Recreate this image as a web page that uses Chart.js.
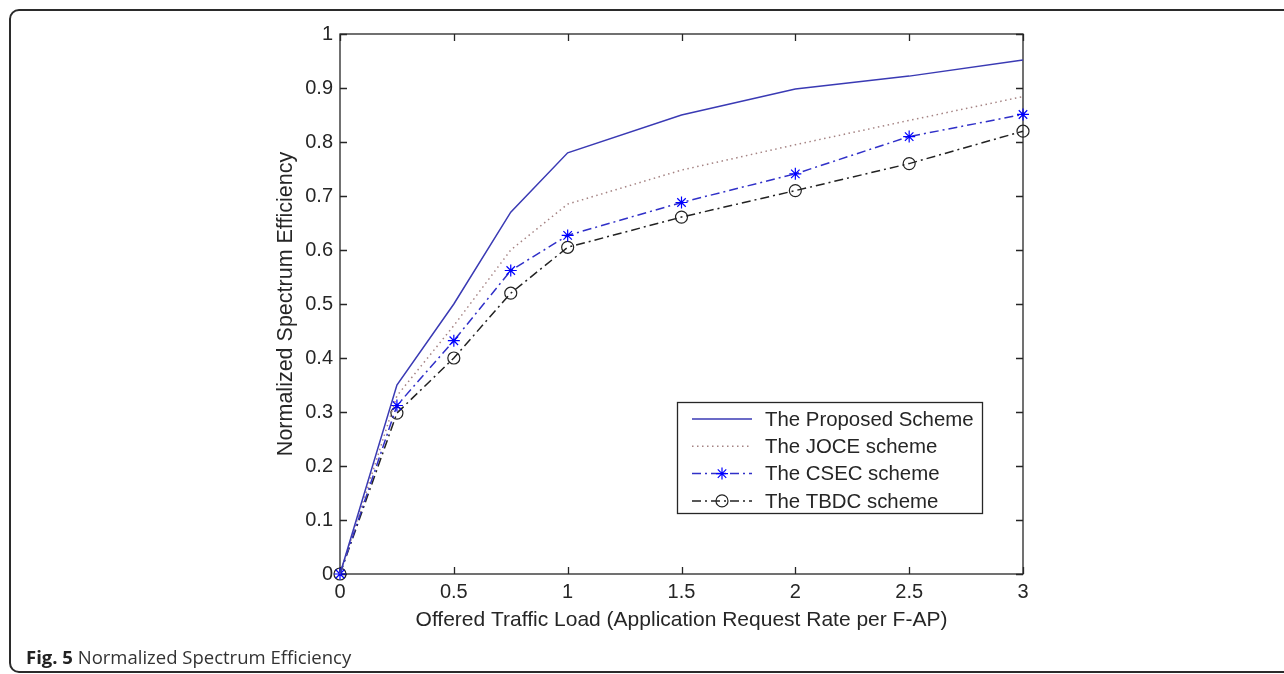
<!DOCTYPE html>
<html>
<head>
<meta charset="utf-8">
<script src="https://cdn.jsdelivr.net/npm/chart.js@4.4.0/dist/chart.umd.min.js"></script>
<style>
  html, body { margin: 0; padding: 0; background: #fff; }
  body { width: 1284px; height: 674px; position: relative; overflow: hidden; }
  #frame {
    position: absolute; left: 9px; top: 9px; width: 1300px; height: 664px;
    box-sizing: border-box; border: 2px solid #2b2b2b; border-radius: 10px;
  }
  #chart { position: absolute; left: 0; top: 0; }
  #caption {
    position: absolute; left: 26px; top: 645px;
    font-family: "Open Sans", sans-serif; font-size: 18.5px; color: #333; line-height: 24px;
  }
  #caption b { color: #222; }
</style>
</head>
<body>
<div id="frame"></div>
<canvas id="chart" width="1284" height="674"></canvas>
<div id="caption"><b>Fig. 5</b> Normalized Spectrum Efficiency</div>

<script>
// ---- data ----
const loads = [0, 0.25, 0.5, 0.75, 1, 1.5, 2, 2.5, 3];
const proposedEff = [0, 0.35, 0.50, 0.67, 0.78, 0.85, 0.898, 0.922, 0.952];
const joceEff = [0, 0.33, 0.46, 0.60, 0.685, 0.748, 0.795, 0.84, 0.884];
const csecEff = [0, 0.312, 0.432, 0.562, 0.627, 0.688, 0.741, 0.81, 0.851];
const tbdcEff = [0, 0.298, 0.40, 0.52, 0.605, 0.661, 0.71, 0.76, 0.82];

const seriesNames = ["The Proposed Scheme", "The JOCE scheme", "The CSEC scheme", "The TBDC scheme"];
const xTitle = "Offered Traffic Load (Application Request Rate per F-AP)";
const yTitle = "Normalized Spectrum Efficiency";

const FONT = "'Liberation Sans', Arial, sans-serif";
const INK = "#262626";

function puntos(valores) {
    return loads.map((x, i) => ({ x: x, y: valores[i] }));
}

function fmt(v) {
    return String(Number(v.toFixed(2)));
}

// inward ticks + box around the axes (matlab style)
const cajaEjes = {
    id: "cajaEjes",
    beforeDatasetsDraw(chart) {
        const { ctx, chartArea: a, scales } = chart;
        ctx.save();
        ctx.strokeStyle = INK;
        ctx.lineWidth = 1.3;
        ctx.strokeRect(a.left, a.top, a.right - a.left, a.bottom - a.top);
        const L = 7;
        ctx.beginPath();
        scales.x.ticks.forEach(t => {
            const px = Math.round(scales.x.getPixelForValue(t.value)) + 0.5;
            ctx.moveTo(px, a.bottom); ctx.lineTo(px, a.bottom - L);
            ctx.moveTo(px, a.top); ctx.lineTo(px, a.top + L);
        });
        scales.y.ticks.forEach(t => {
            const py = Math.round(scales.y.getPixelForValue(t.value)) + 0.5;
            ctx.moveTo(a.left, py); ctx.lineTo(a.left + L, py);
            ctx.moveTo(a.right, py); ctx.lineTo(a.right - L, py);
        });
        ctx.stroke();
        ctx.restore();
    }
};

function dibujarMarcador(ctx, estilo, x, y, r, color) {
    ctx.save();
    ctx.strokeStyle = color;
    ctx.lineWidth = 1.2;
    ctx.setLineDash([]);
    ctx.beginPath();
    if (estilo === "circle") {
        ctx.arc(x, y, r, 0, Math.PI * 2);
    } else if (estilo === "star") {
        for (let k = 0; k < 4; k++) {
            const ang = k * Math.PI / 4;
            ctx.moveTo(x - r * Math.cos(ang), y - r * Math.sin(ang));
            ctx.lineTo(x + r * Math.cos(ang), y + r * Math.sin(ang));
        }
    }
    ctx.stroke();
    ctx.restore();
}

// legend box inside the plot
const leyendaCaja = {
    id: "leyendaCaja",
    afterDraw(chart) {
        const ctx = chart.ctx;
        const bx = 677, by = 402, bw = 305, bh = 111;
        ctx.save();
        ctx.fillStyle = "#fff";
        ctx.fillRect(bx, by, bw, bh);
        ctx.strokeStyle = INK;
        ctx.lineWidth = 1.3;
        ctx.strokeRect(bx + 0.5, by + 0.5, bw, bh);
        ctx.font = "20.4px " + FONT;
        ctx.textBaseline = "middle";
        chart.data.datasets.forEach((ds, i) => {
            const y = by + 17 + i * 27.3;
            ctx.save();
            ctx.strokeStyle = ds.borderColor;
            ctx.lineWidth = ds.borderWidth;
            ctx.setLineDash(ds.borderDash || []);
            ctx.beginPath();
            ctx.moveTo(692, y);
            ctx.lineTo(752, y);
            ctx.stroke();
            ctx.restore();
            if (ds.pointRadius > 0) {
                dibujarMarcador(ctx, ds.pointStyle, 722, y, ds.pointRadius, ds.pointBorderColor);
            }
            ctx.fillStyle = INK;
            ctx.fillText(ds.label, 765, y + 1);
        });
        ctx.restore();
    }
};

const ctx = document.getElementById("chart").getContext("2d");

new Chart(ctx, {
    type: "line",
    data: {
        datasets: [
            {
                label: seriesNames[0],
                data: puntos(proposedEff),
                borderColor: "#3a3ab4",
                borderWidth: 1.5,
                pointRadius: 0,
                tension: 0,
                clip: false
            },
            {
                label: seriesNames[1],
                data: puntos(joceEff),
                borderColor: "#a58383",
                borderWidth: 1.5,
                borderDash: [1.5, 3.5],
                pointRadius: 0,
                tension: 0,
                clip: false
            },
            {
                label: seriesNames[2],
                data: puntos(csecEff),
                borderColor: "#3030c8",
                borderWidth: 1.5,
                borderDash: [9, 4, 2, 4],
                pointStyle: "star",
                pointRadius: 6,
                pointBorderColor: "#0000ff",
                pointBackgroundColor: "#0000ff",
                pointBorderWidth: 1.2,
                tension: 0,
                clip: false
            },
            {
                label: seriesNames[3],
                data: puntos(tbdcEff),
                borderColor: "#222222",
                borderWidth: 1.5,
                borderDash: [9, 4, 2, 4],
                pointStyle: "circle",
                pointRadius: 6,
                pointBorderColor: "#222222",
                pointBackgroundColor: "rgba(0,0,0,0)",
                pointBorderWidth: 1.2,
                tension: 0,
                clip: false
            }
        ]
    },
    options: {
        responsive: false,
        animation: false,
        layout: { padding: { left: 273, top: 34, right: 261, bottom: 40 } },
        plugins: {
            legend: { display: false },
            tooltip: { enabled: false }
        },
        scales: {
            x: {
                type: "linear",
                min: 0,
                max: 3,
                grid: { display: false, drawTicks: false },
                border: { display: false },
                ticks: {
                    stepSize: 0.5,
                    padding: 6,
                    color: INK,
                    font: { family: FONT, size: 20 },
                    maxRotation: 0,
                    callback: v => fmt(v)
                },
                title: {
                    display: true,
                    text: xTitle,
                    color: INK,
                    font: { family: FONT, size: 21 },
                    padding: { top: 0, bottom: 1 }
                },
                afterFit: s => { s.height = 60; }
            },
            y: {
                min: 0,
                max: 1,
                grid: { display: false, drawTicks: false },
                border: { display: false },
                ticks: {
                    stepSize: 0.1,
                    padding: 7,
                    color: INK,
                    font: { family: FONT, size: 20 },
                    callback: v => fmt(v)
                },
                title: {
                    display: true,
                    text: yTitle,
                    color: INK,
                    font: { family: FONT, size: 21.5 },
                    padding: 0
                },
                afterFit: s => { s.width = 67; }
            }
        }
    },
    plugins: [cajaEjes, leyendaCaja]
});
</script>
</body>
</html>
